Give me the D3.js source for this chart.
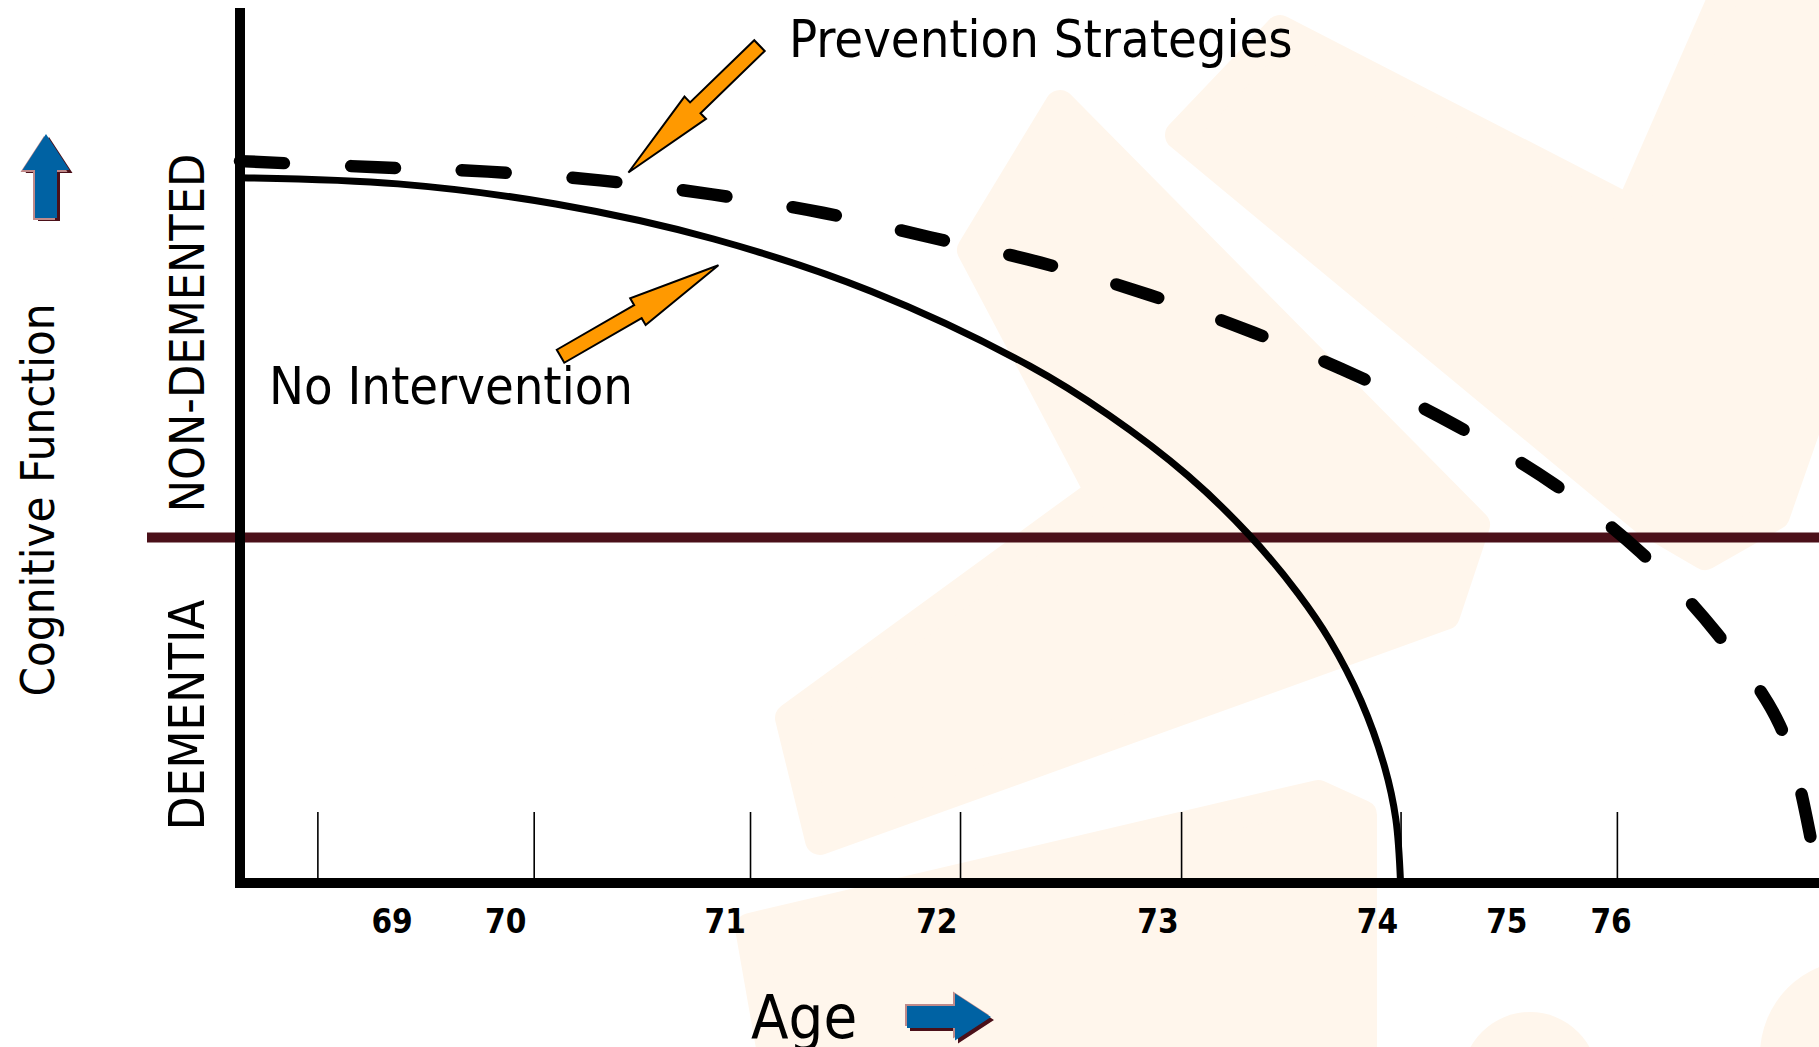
<!DOCTYPE html>
<html>
<head>
<meta charset="utf-8">
<script src="https://cdn.jsdelivr.net/npm/d3@7"></script>
<style>
html, body { margin: 0; padding: 0; background: #fff; overflow: hidden; }
svg { display: block; }
text { font-family: "DejaVu Sans Condensed", "DejaVu Sans", sans-serif; font-stretch: condensed; fill: #000; }
</style>
</head>
<body>
<div id="viz"></div>
<script>

// x runs 0-100 along the age axis, y 0-100 is cognitive function
var tickPos = [4.9, 18.6, 32.3, 45.6, 59.6, 73.5, 87.2];
var ageLabels = ["69", "70", "71", "72", "73", "74", "75", "76"];
var ageLabelPos = [9.6, 16.8, 30.7, 44.1, 58.1, 72.0, 80.2, 86.8];
var dementiaThreshold = 39.5;

var noIntervention = [
  [0, 80.6], [10, 79.9], [20, 77.6], [30, 73.6], [40, 67.6], [50, 59.1], [55, 53.5],
  [60, 46.6], [64, 39.6], [67, 33.1], [69, 27.8], [71, 20.8], [72.5, 13.2], [73.2, 7.3], [73.5, 0]
];

var prevention = [
  [0, 82.5], [8.7, 81.8], [15.7, 81.3], [22.8, 80.3], [29.9, 78.7], [36.9, 76.6],
  [43.7, 73.8], [50.7, 70.9], [57.6, 67.2], [64.2, 62.9], [70.8, 57.9], [77.1, 52.2],
  [83.2, 45.6], [88.7, 37.8], [93.5, 28.6], [97.5, 18.1], [99.4, 5.8], [99.8, 0]
];

// callout arrows: tail -> tip, in chart units
var callouts = [
  {name: "Prevention Strategies", tail: [32.9, 95.7], tip: [24.6, 81.2]},
  {name: "No Intervention", tail: [20.3, 60.2], tip: [30.3, 70.6]}
];

var W = 1819, H = 1047;

var svg = d3.select("#viz").append("svg").attr("width", W).attr("height", H);

var x = d3.scaleLinear().domain([0, 100]).range([240, 1819]);
var y = d3.scaleLinear().domain([0, 100]).range([883, 8]);

// faint watermark behind everything
var cream = "#fff6ec";
var bg = svg.append("g").attr("class", "watermark");
var blobs = [
  [[1180, 135], [1280, 30], [1630, 210], [1735, -30], [1850, -30], [1850, 300], [1775, 515], [1705, 555], [1645, 520]],
  [[1060, 105], [1475, 525], [1445, 615], [820, 840], [790, 718], [1100, 492], [972, 250]],
  [[750, 928], [1318, 795], [1362, 815], [1362, 1070], [775, 1070]]
];
bg.selectAll("path").data(blobs).enter().append("path")
    .attr("d", d3.line().curve(d3.curveLinearClosed))
    .style("fill", cream)
    .style("stroke", cream)
    .style("stroke-width", 30)
    .style("stroke-linejoin", "round");
bg.append("circle").attr("cx", 1855).attr("cy", 1055).attr("r", 95).style("fill", cream);
bg.append("circle").attr("cx", 1530).attr("cy", 1080).attr("r", 68).style("fill", cream);

var line = d3.line()
    .x(function(d) { return x(d[0]); })
    .y(function(d) { return y(d[1]); })
    .curve(d3.curveCatmullRom.alpha(0.5));

// dementia threshold
svg.append("line")
    .attr("x1", 147)
    .attr("x2", W)
    .attr("y1", y(dementiaThreshold))
    .attr("y2", y(dementiaThreshold))
    .style("stroke", "#4b1019")
    .style("stroke-width", 10);

// ticks (pointing up from the axis)
svg.append("g")
    .attr("transform", "translate(0," + y(0) + ")")
    .call(d3.axisBottom(x).tickValues(tickPos).tickSize(-71).tickSizeOuter(0).tickFormat(""))
    .call(function(g) {
      g.select(".domain").remove();
      g.selectAll(".tick line").style("stroke", "#000").style("stroke-width", 1.6);
    });

// age labels sit between the ticks, not on them
svg.append("g")
    .attr("transform", "translate(0," + y(0) + ")")
    .call(d3.axisBottom(x).tickValues(ageLabelPos).tickSize(0).tickPadding(27)
      .tickFormat(function(d, i) { return ageLabels[i]; }))
    .call(function(g) {
      g.select(".domain").remove();
      g.selectAll(".tick text")
          .style("font-family", "'DejaVu Sans Condensed', 'DejaVu Sans', sans-serif")
          .style("font-stretch", "condensed")
          .style("font-size", "33px")
          .style("font-weight", "bold")
          .style("fill", "#000");
    });

// curves
svg.append("path")
    .datum(noIntervention)
    .attr("d", line)
    .style("fill", "none")
    .style("stroke", "#000")
    .style("stroke-width", 7);

svg.append("path")
    .datum(prevention)
    .attr("d", line)
    .style("fill", "none")
    .style("stroke", "#000")
    .style("stroke-width", 12.5)
    .style("stroke-linecap", "round")
    .style("stroke-dasharray", "44,67");

// axes lines
svg.append("line")
    .attr("x1", x(0)).attr("x2", x(0))
    .attr("y1", y(100)).attr("y2", y(0) + 5)
    .style("stroke", "#000").style("stroke-width", 10);
svg.append("line")
    .attr("x1", x(0) - 5).attr("x2", W)
    .attr("y1", y(0)).attr("y2", y(0))
    .style("stroke", "#000").style("stroke-width", 10);

// arrow outline pointing right from (0,0)
function arrowPath(len, shaftW, headW, headLen) {
  var s = shaftW / 2, h = headW / 2, b = len - headLen;
  return "M0," + (-s) + "L" + b + "," + (-s) + "L" + b + "," + (-h) + "L" + len + ",0L" + b + "," + h +
    "L" + b + "," + s + "L0," + s + "Z";
}

// orange callouts
callouts.forEach(function(c) {
  var x0 = x(c.tail[0]), y0 = y(c.tail[1]), x1 = x(c.tip[0]), y1 = y(c.tip[1]);
  var len = Math.sqrt((x1 - x0) * (x1 - x0) + (y1 - y0) * (y1 - y0));
  var ang = Math.atan2(y1 - y0, x1 - x0) * 180 / Math.PI;
  svg.append("path")
      .attr("d", arrowPath(len, 15, 31, len * 0.51))
      .attr("transform", "translate(" + x0 + "," + y0 + ") rotate(" + ang + ")")
      .style("fill", "#ff9900")
      .style("stroke", "#000")
      .style("stroke-width", 2)
      .style("stroke-linejoin", "miter");
});

svg.append("text")
    .attr("x", 789).attr("y", 57)
    .style("font-size", "52px")
    .text("Prevention Strategies");

svg.append("text")
    .attr("x", 269).attr("y", 404)
    .style("font-size", "52px")
    .text("No Intervention");

// zone labels
svg.append("text")
    .attr("transform", "translate(204," + 333 + ") rotate(-90)")
    .style("font-size", "48px")
    .style("text-anchor", "middle")
    .text("NON-DEMENTED");

svg.append("text")
    .attr("transform", "translate(204," + 715 + ") rotate(-90)")
    .style("font-size", "49px")
    .style("text-anchor", "middle")
    .text("DEMENTIA");

// axis titles
svg.append("text")
    .attr("transform", "translate(54," + 500 + ") rotate(-90)")
    .style("font-size", "47px")
    .style("text-anchor", "middle")
    .text("Cognitive Function");

svg.append("text")
    .attr("x", 751).attr("y", 1038)
    .style("font-size", "61px")
    .text("Age");

// blue direction arrows with the little bevel
function blueArrow(tx, ty, rot) {
  var g = svg.append("g").attr("transform", "translate(" + tx + "," + ty + ") rotate(" + rot + ")");
  var d = arrowPath(84, 22, 47, 36);
  var sh = rot === 0 ? [3, 3] : [-3, 3];
  g.append("path").attr("d", d).attr("transform", "translate(" + sh[0] + "," + sh[1] + ")").style("fill", "#4b1019");
  g.append("path").attr("d", d).attr("transform", "translate(-2,-2)").style("fill", "#c08a8a");
  g.append("path").attr("d", d).style("fill", "#0062a3");
}
blueArrow(46, 218, -90);
blueArrow(907, 1017, 0);

</script>
</body>
</html>
